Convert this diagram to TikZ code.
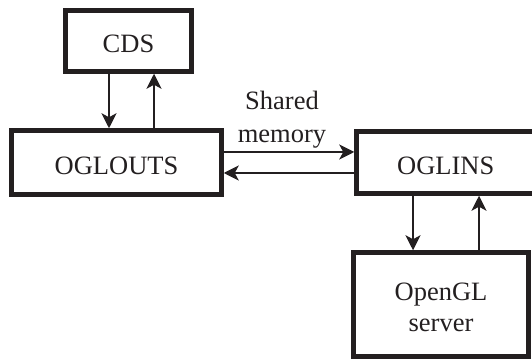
\documentclass[tikz,border=0pt]{standalone}
\usepackage{fontspec}
\setmainfont{Liberation Serif}
\usetikzlibrary{arrows.meta}
\definecolor{ink}{RGB}{35,31,32}
\begin{document}
\begin{tikzpicture}[x=1pt,y=1pt,
  box/.style={draw=ink, line width=4.5pt, fill=white, inner sep=0pt, align=center,
    text=ink, text depth=0pt, font=\fontsize{26.5}{32}\selectfont},
  oneline/.style={text height=23.5pt},
  twoline/.style={text height=55pt},
  arr/.style={draw=ink, line width=1.8pt, -{Stealth[length=15pt,width=15pt,inset=4pt]}},
  lbl/.style={align=center, inner sep=0pt, text=ink, font=\fontsize{26.5}{33}\selectfont}]
\clip (0,0) rectangle (532,361);
\useasboundingbox (0,0) rectangle (532,361);
\node[box, oneline, minimum width=126pt, minimum height=61pt] (cds) at (128.5,320) {CDS};
\node[box, oneline, minimum width=210pt, minimum height=64pt] (out) at (116.5,198.5) {OGLOUTS};
\node[box, oneline, minimum width=178.5pt, minimum height=62pt] (ins) at (445.75,198.5) {OGLINS};
\node[box, twoline, minimum width=175pt, minimum height=104pt] (gl) at (441,56.5) {OpenGL\\server};
\node[lbl] (shm) at (282,241.5) {Shared\\memory};
% CDS <-> OGLOUTS
\draw[arr] ([xshift=-19.5pt]cds.south) -- ([xshift=-7.5pt]out.north);
\draw[arr] ([xshift=37.5pt]out.north) -- ([xshift=25.5pt]cds.south);
% OGLOUTS <-> OGLINS
\draw[arr] ([yshift=10.5pt]out.east) -- ([yshift=10.5pt]ins.west);
\draw[arr] ([yshift=-10.5pt]ins.west) -- ([yshift=-10.5pt]out.east);
% OGLINS <-> OpenGL
\draw[arr] ([xshift=-32.75pt]ins.south) -- ([xshift=-28pt]gl.north);
\draw[arr] ([xshift=38pt]gl.north) -- ([xshift=33.25pt]ins.south);
\end{tikzpicture}
\end{document}
